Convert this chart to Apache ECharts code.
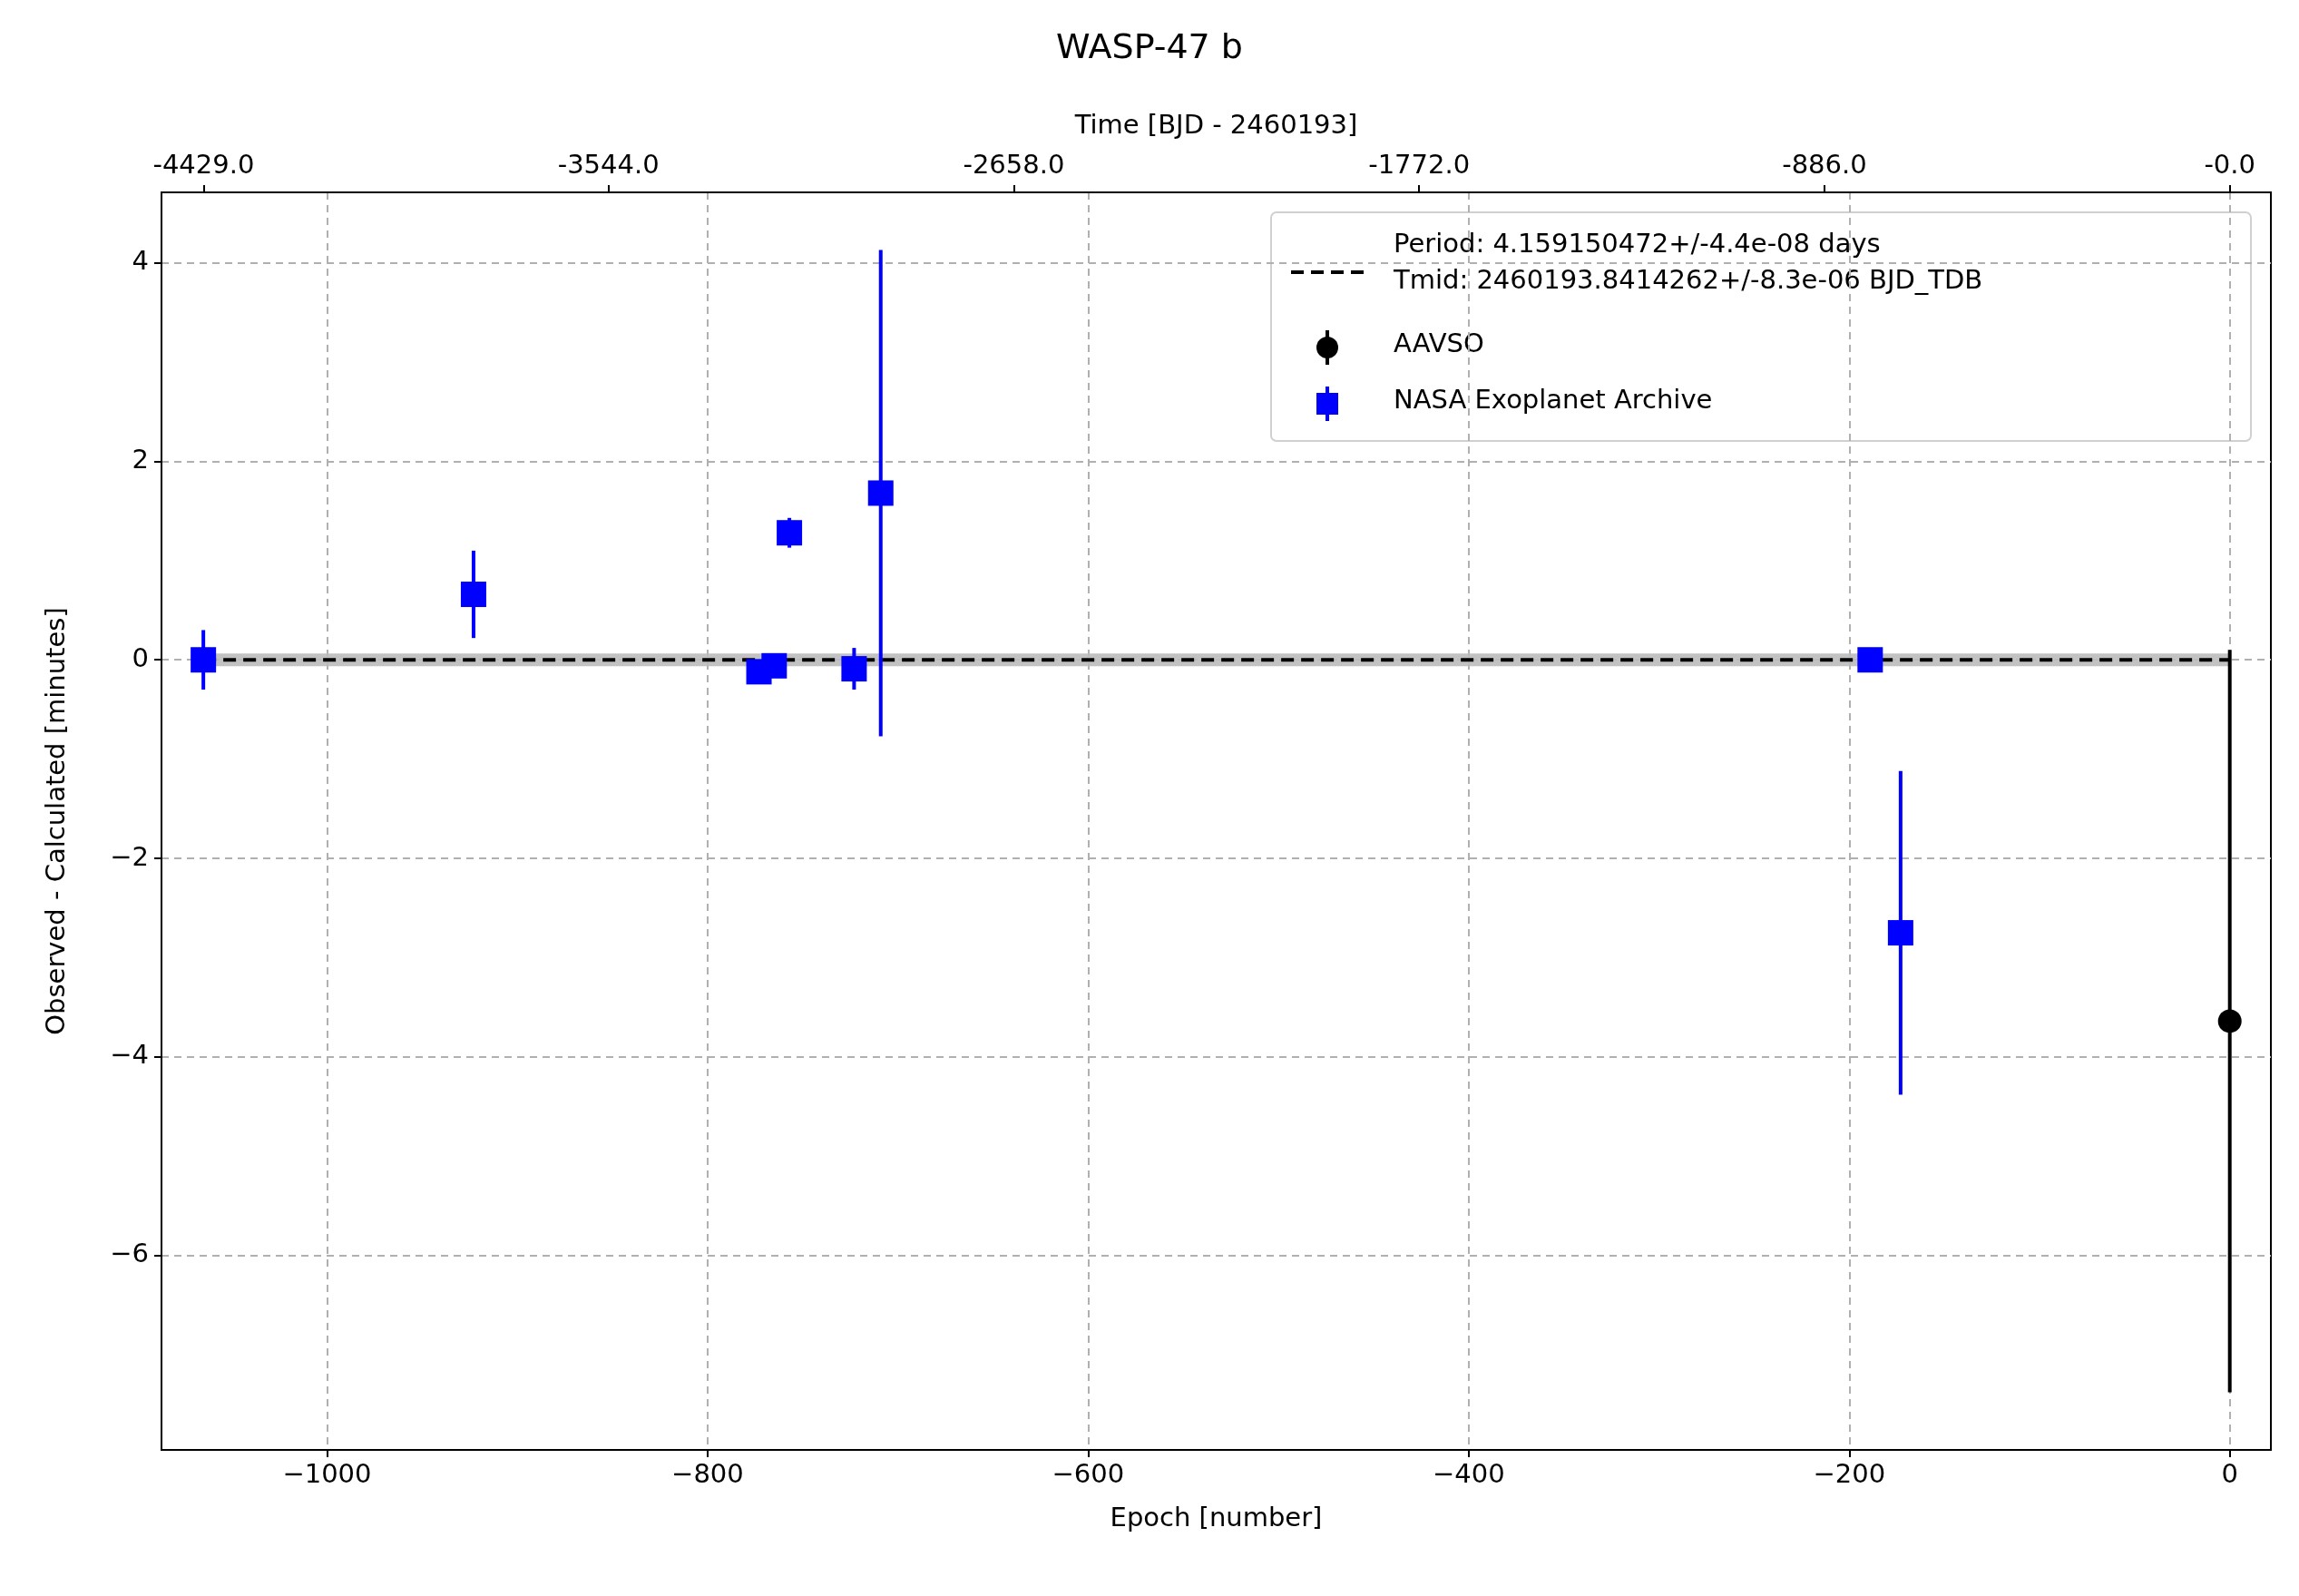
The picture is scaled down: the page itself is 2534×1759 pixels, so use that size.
<!DOCTYPE html>
<html>
<head>
<meta charset="utf-8">
<script src="https://cdn.jsdelivr.net/npm/echarts@6/dist/echarts.min.js"></script>
<style>html,body{margin:0;background:#fff}#chart{width:2534px;height:1759px}</style>
</head>
<body>
<div id="chart"></div>
<script>
// data
var nasaEpoch = [-1065, -923, -773, -765, -757, -723, -709, -189, -173];
var nasaOC    = [0.0, 0.66, -0.12, -0.06, 1.28, -0.09, 1.68, 0.0, -2.75];
var nasaErr   = [0.30, 0.44, 0.08, 0.08, 0.15, 0.21, 2.45, 0.06, 1.63];
var aavsoEpoch = [0];
var aavsoOC    = [-3.64];
var aavsoErr   = [3.74];
var fitEpoch = [-1065, 0];
var fitOC = [0, 0];
var period = 4.159150472;
var topTicks = [-4429, -3544, -2658, -1772, -886, 0];
var epochTicks = [-1000, -800, -600, -400, -200, 0];
var ocTicks = [-6, -4, -2, 0, 2, 4];

var font = 'DejaVu Sans';
function pts(xs, ys) { return xs.map(function (x, i) { return [x, ys[i]]; }); }
function errData(xs, ys, es) { return xs.map(function (x, i) { return [x, ys[i] - es[i], ys[i] + es[i]]; }); }
function errSeries(data, color) {
  return {
    type: 'custom', silent: true, z: 3,
    data: data,
    renderItem: function (params, api) {
      var a = api.coord([api.value(0), api.value(1)]);
      var b = api.coord([api.value(0), api.value(2)]);
      return { type: 'line', shape: { x1: a[0], y1: a[1], x2: b[0], y2: b[1] }, style: { stroke: color, lineWidth: 4 } };
    }
  };
}
function minus(v) { return String(v).replace('-', '\u2212'); }

var chart = echarts.init(document.getElementById('chart'));
var gridLine = { show: true, lineStyle: { color: '#b0b0b0', type: [8, 6], width: 2 } };
var xmin = -1087, xmax = 21.6;
chart.setOption({
  animation: false,
  title: { text: 'WASP-47 b', left: 'center', top: 30, textStyle: { fontFamily: font, fontSize: 38, fontWeight: 'normal', color: '#000' } },
  grid: { left: 178, right: 31, top: 212, bottom: 161, show: true, borderColor: '#000', borderWidth: 2, backgroundColor: 'transparent' },
  xAxis: [{
    type: 'value', min: xmin, max: xmax,
    name: 'Epoch [number]', nameLocation: 'middle', nameGap: 62,
    nameTextStyle: { fontFamily: font, fontSize: 29, color: '#000' },
    axisLine: { onZero: false, lineStyle: { color: '#000', width: 2 } },
    axisTick: { show: true, length: 8, customValues: epochTicks, lineStyle: { color: '#000', width: 2 } },
    axisLabel: { fontFamily: font, fontSize: 29, color: '#000', margin: 14, customValues: epochTicks, formatter: minus },
    splitLine: gridLine
  }, {
    type: 'value', position: 'top', min: xmin * period, max: xmax * period,
    name: 'Time [BJD - 2460193]', nameLocation: 'middle', nameGap: 58,
    nameTextStyle: { fontFamily: font, fontSize: 29, color: '#000' },
    axisLine: { onZero: false, lineStyle: { color: '#000', width: 2 } },
    axisTick: { show: true, length: 8, customValues: topTicks, lineStyle: { color: '#000', width: 2 } },
    axisLabel: { fontFamily: font, fontSize: 29, color: '#000', margin: 14, customValues: topTicks,
      formatter: function (v) { return v === 0 ? '-0.0' : v.toFixed(1); } },
    splitLine: { show: false }
  }],
  yAxis: {
    type: 'value', min: -7.96, max: 4.71,
    name: 'Observed - Calculated [minutes]', nameLocation: 'middle', nameGap: 100,
    nameTextStyle: { fontFamily: font, fontSize: 29, color: '#000' },
    axisLine: { show: true, onZero: false, lineStyle: { color: '#000', width: 2 } },
    axisTick: { show: true, length: 8, customValues: ocTicks, lineStyle: { color: '#000', width: 2 } },
    axisLabel: { fontFamily: font, fontSize: 29, color: '#000', margin: 14, customValues: ocTicks, formatter: minus },
    splitLine: gridLine
  },
  series: [
    { type: 'line', data: pts(fitEpoch, fitOC), symbol: 'none', z: 1, silent: true,
      lineStyle: { color: '#bbbbbb', width: 14, opacity: 0.9 } },
    { type: 'line', data: pts(fitEpoch, fitOC), symbol: 'none', z: 2, silent: true,
      lineStyle: { color: '#000', width: 4, type: [14, 8] } },
    errSeries(errData(nasaEpoch, nasaOC, nasaErr), '#0000ff'),
    errSeries(errData(aavsoEpoch, aavsoOC, aavsoErr), '#000'),
    { type: 'scatter', data: pts(nasaEpoch, nasaOC), symbol: 'rect', symbolSize: 28, z: 4, itemStyle: { color: '#0000ff', opacity: 1 } },
    { type: 'scatter', data: pts(aavsoEpoch, aavsoOC), symbol: 'circle', symbolSize: 26, z: 4, itemStyle: { color: '#000', opacity: 1 } }
  ],
  graphic: [{
    type: 'group', left: 1400, top: 233, z: 10, children: [
      { type: 'rect', shape: { x: 0, y: 0, width: 1080, height: 252, r: 6 }, style: { fill: 'rgba(255,255,255,0.8)', stroke: '#d0d0d0', lineWidth: 2 } },
      { type: 'line', shape: { x1: 22, y1: 66, x2: 102, y2: 66 }, style: { stroke: '#000', lineWidth: 4, lineDash: [14, 8] } },
      { type: 'text', x: 135, y: 16, style: { text: 'Period: 4.159150472+/-4.4e-08 days\nTmid: 2460193.8414262+/-8.3e-06 BJD_TDB', font: '29px DejaVu Sans', fill: '#000', lineHeight: 40 } },
      { type: 'line', z: 1, shape: { x1: 62, y1: 130, x2: 62, y2: 168 }, style: { stroke: '#000', lineWidth: 4 } },
      { type: 'circle', z: 2, shape: { cx: 62, cy: 149, r: 12 }, style: { fill: '#000' } },
      { type: 'text', x: 135, y: 132, style: { text: 'AAVSO', font: '29px DejaVu Sans', fill: '#000' } },
      { type: 'line', z: 1, shape: { x1: 62, y1: 192, x2: 62, y2: 230 }, style: { stroke: '#0000ff', lineWidth: 4 } },
      { type: 'rect', z: 2, shape: { x: 50, y: 199, width: 24, height: 24 }, style: { fill: '#0000ff' } },
      { type: 'text', x: 135, y: 194, style: { text: 'NASA Exoplanet Archive', font: '29px DejaVu Sans', fill: '#000' } }
    ]
  }]
});
</script>
</body>
</html>
